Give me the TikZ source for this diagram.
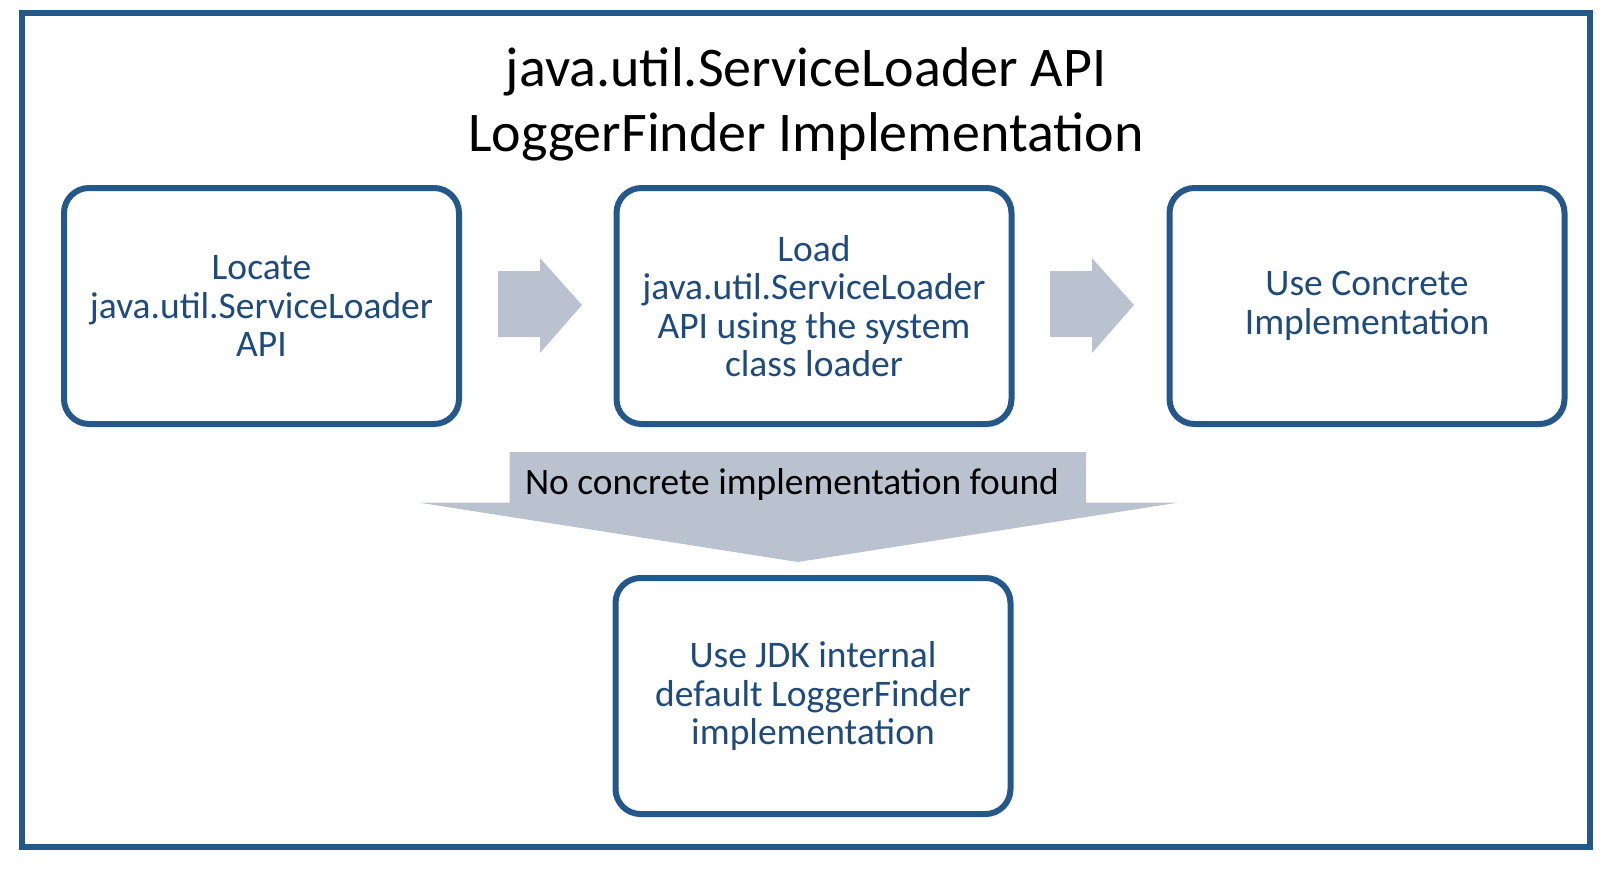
\documentclass[tikz,border=0pt]{standalone}
\usepackage{fontspec}
\setmainfont{Carlito}
\definecolor{frameblue}{RGB}{36,87,138}
\definecolor{textblue}{RGB}{31,74,124}
\definecolor{arrowgrey}{RGB}{185,194,206}
\tikzset{
  stepbox/.style={draw=frameblue, line width=6, rounded corners=25, fill=white,
    minimum width=395, minimum height=236, align=center, text=textblue,
    font=\fontsize{37.5}{38.5}\selectfont},
  titletext/.style={align=center, font=\fontsize{56}{65}\selectfont}
}
\begin{document}
\begin{tikzpicture}[x=1pt,y=1pt,yscale=-1,xscale=1]
\useasboundingbox (0,0) rectangle (1608,868);

% Outer frame
\draw [frameblue, line width=6] (22,12.5) rectangle (1590,847);

% Title
\node [titletext] (title) at (806,104) {java.util.ServiceLoader API\\LoggerFinder Implementation};

% Step boxes
\node [stepbox] (locate) at (261.5,306) {Locate\\java.util.ServiceLoader\\API};
\node [stepbox] (load) at (814,306) {Load\\java.util.ServiceLoader\\API using the system\\class loader};
\node [stepbox] (use) at (1367,306) {Use Concrete\\Implementation};
\node [stepbox] (fallback) at (813,696) {Use JDK internal\\default LoggerFinder\\implementation};

% Block arrows between boxes
\fill [arrowgrey] (498,271) -- (540,271) -- (540,258) -- (582,305) -- (540,353) -- (540,337) -- (498,337) -- cycle;
\fill [arrowgrey] (1050,271) -- (1092,271) -- (1092,258) -- (1134,305) -- (1092,353) -- (1092,337) -- (1050,337) -- cycle;

% Down arrow with label
\fill [arrowgrey] (509.7,452) -- (1086,452) -- (1086,502.5) -- (1179,502.5) -- (797.8,562) -- (418.4,502.5) -- (509.7,502.5) -- cycle;
\node [font=\fontsize{37.4}{40}\selectfont] (notfound) at (792,485) {No concrete implementation found};
\end{tikzpicture}
\end{document}
